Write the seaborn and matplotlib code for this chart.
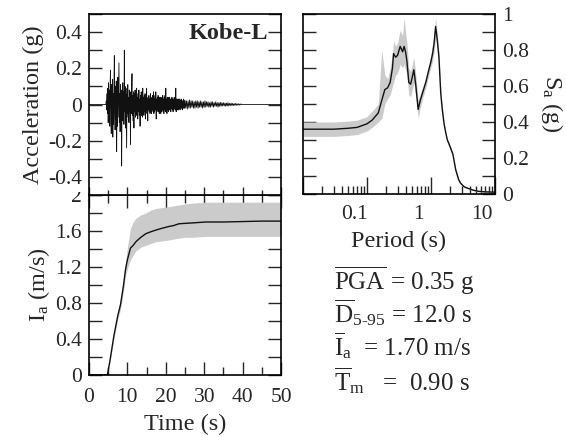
import numpy as np
import pandas as pd
import matplotlib
matplotlib.use("Agg")
import matplotlib.pyplot as plt
import matplotlib.transforms as mtrans
from matplotlib.ticker import MultipleLocator, FixedLocator, FixedFormatter, NullFormatter, LogLocator
import seaborn as sns

# ---------------- data ----------------
# acceleration record, dense part: starts at 4.4 s, sampled every 0.1 s
acc_dense_t0 = 4.4
acc_dense_dt = 0.1
acc_dense = [
    0.00, 0.02, -0.03, 0.06, -0.05, 0.09,
    -0.10, 0.12, -0.06, 0.08, -0.12, 0.10, 0.19, -0.08, -0.16, 0.11,
    -0.09, 0.14, -0.18, 0.06, -0.11, 0.12, 0.27, -0.05, -0.14, 0.10,
    -0.08, 0.13, -0.26, 0.05, -0.12, 0.15, -0.07, 0.09, 0.23, -0.10,
    0.06, -0.15, 0.11, -0.05, 0.08, -0.34, 0.04, -0.09, 0.12, -0.06,
    0.07, -0.11, 0.30, -0.04, 0.10, -0.13, 0.06, -0.08, -0.24, 0.09,
    -0.05, 0.11, -0.07, 0.04, -0.10, 0.08, -0.04, 0.06, -0.22, 0.07,
    -0.05, 0.09, 0.17, -0.06, 0.05, -0.09, 0.07, -0.13, 0.06, -0.04,
    0.08, -0.07, 0.05, -0.06, 0.09, -0.05, 0.04, -0.08, 0.06, -0.04,
    0.08, -0.06, 0.03, -0.12, 0.05, -0.04, 0.07, -0.06, 0.04, -0.07,
    0.09, -0.05, 0.04, -0.06, 0.05, -0.04, 0.06, -0.08, 0.04, -0.03,
    0.09, -0.05, 0.03, -0.09, 0.04, -0.03, 0.05, -0.04, 0.03, -0.05,
    0.06, -0.04, 0.03, -0.05, 0.04, -0.03, 0.05, -0.04, 0.07, -0.05,
    0.03, -0.04, 0.05, -0.03, 0.07, -0.08, 0.03, -0.04, 0.04, -0.03,
    0.05, -0.04, 0.03, -0.05, 0.04, -0.03, 0.04, -0.05, 0.03, -0.04,
    0.04, -0.03, 0.05, -0.04, 0.03, -0.05, 0.04, -0.03, 0.05, -0.04,
    0.09, -0.04, 0.03, -0.05, 0.04, -0.03, 0.04, -0.04, 0.03, -0.03,
    0.04, -0.03, 0.03, -0.04, 0.03, -0.02, 0.04, -0.03, 0.03, -0.04,
    0.03, -0.03, 0.04, -0.02, 0.03, -0.03, 0.09, -0.04, 0.03, -0.02,
    0.03, -0.03, 0.02, -0.03, 0.03, -0.02, 0.03, -0.03, 0.02, -0.02,
    0.03, -0.02, 0.02, -0.03, 0.02, -0.02, 0.03, -0.02, 0.02, -0.02,
]
# acceleration record, coda: starts at 25 s, sampled every 0.2 s
acc_tail_t0 = 25.0
acc_tail_dt = 0.2
acc_tail = [
    0.025, -0.02, 0.02, -0.025, 0.02, -0.02, 0.025, -0.02, 0.02, -0.015,
    0.02, -0.02, 0.015, -0.02, 0.02, -0.015, 0.02, -0.02, 0.015, -0.015,
    0.02, -0.015, 0.015, -0.02, 0.015, -0.015, 0.02, -0.015, 0.015, -0.01,
    0.015, -0.015, 0.01, -0.015, 0.015, -0.01, 0.015, -0.015, 0.01, -0.01,
    0.015, -0.01, 0.01, -0.015, 0.01, -0.01, 0.012, -0.01, 0.01, -0.008,
    0.01, -0.008, 0.008, -0.01, 0.008, -0.008, 0.01, -0.008, 0.006, -0.006,
    0.008, -0.006, 0.006, -0.006, 0.005, -0.005, 0.006, -0.004, 0.004, -0.004,
    0.004, -0.003, 0.003, -0.002, 0.002,
]
acc_quiet_t = [0.0, 4.3, 40.0, 50.0]
acc_quiet_a = [0.0, 0.0, 0.0, 0.0]

# Arias intensity (mean and band)
ia_t = [0, 4.8, 5.5, 6.5, 7.5, 8.2, 9.0, 9.5, 10.0, 10.8, 11.5, 12.2, 13.5, 14.8,
        16.0, 17.4, 19.0, 20.8, 22.0, 23.4, 25, 27, 30.4, 35, 40, 45, 50]
ia_mean = [0, 0, 0.17, 0.44, 0.66, 0.78, 1.00, 1.17, 1.28, 1.41, 1.44, 1.48, 1.53, 1.57,
           1.59, 1.61, 1.63, 1.65, 1.66, 1.68, 1.685, 1.69, 1.70, 1.70, 1.705, 1.71, 1.71]
ia_upper = [0, 0, 0.19, 0.47, 0.70, 0.84, 1.07, 1.25, 1.42, 1.63, 1.70, 1.74, 1.78, 1.80,
            1.83, 1.85, 1.86, 1.87, 1.88, 1.89, 1.90, 1.91, 1.92, 1.92, 1.92, 1.92, 1.92]
ia_lower = [0, 0, 0.15, 0.41, 0.62, 0.73, 0.93, 1.10, 1.18, 1.28, 1.33, 1.38, 1.42, 1.44,
            1.46, 1.48, 1.49, 1.50, 1.51, 1.52, 1.53, 1.53, 1.54, 1.54, 1.54, 1.54, 1.54]

# response spectrum (mean and band)
sa_period = [0.01, 0.02, 0.03, 0.05, 0.07, 0.10, 0.12, 0.15, 0.17, 0.19, 0.21, 0.23, 0.25,
             0.26, 0.28, 0.30, 0.33, 0.36, 0.38, 0.40, 0.42, 0.45, 0.48, 0.51, 0.54, 0.58,
             0.63, 0.68, 0.75, 0.83, 0.91, 0.99, 1.06, 1.12, 1.18, 1.25, 1.33, 1.42, 1.50,
             1.60, 1.70, 1.80, 1.90, 2.05, 2.20, 2.43, 2.70, 2.90, 3.30, 3.70, 4.50, 5.50,
             7.00, 10.0]
sa_mean = [0.36, 0.36, 0.36, 0.365, 0.37, 0.39, 0.41, 0.45, 0.52, 0.58, 0.59, 0.62, 0.70,
           0.78, 0.76, 0.77, 0.82, 0.79, 0.82, 0.79, 0.74, 0.62, 0.61, 0.65, 0.69, 0.60,
           0.47, 0.52, 0.57, 0.62, 0.68, 0.73, 0.78, 0.84, 0.93, 0.86, 0.76, 0.56, 0.47,
           0.39, 0.34, 0.30, 0.28, 0.25, 0.22, 0.135, 0.08, 0.06, 0.04, 0.033, 0.022, 0.015,
           0.012, 0.01]
sa_upper = [0.40, 0.40, 0.40, 0.405, 0.41, 0.43, 0.46, 0.50, 0.80, 0.66, 0.64, 0.70, 0.78,
            0.85, 0.82, 0.84, 0.91, 0.88, 0.98, 0.90, 0.84, 0.70, 0.68, 0.72, 0.76, 0.66,
            0.52, 0.56, 0.60, 0.65, 0.71, 0.77, 0.83, 0.90, 0.98, 0.90, 0.79, 0.58, 0.49,
            0.40, 0.35, 0.31, 0.29, 0.26, 0.23, 0.145, 0.09, 0.065, 0.045, 0.037, 0.025,
            0.018, 0.015, 0.012]
sa_lower = [0.32, 0.32, 0.32, 0.325, 0.33, 0.35, 0.37, 0.40, 0.42, 0.50, 0.53, 0.55, 0.60,
            0.62, 0.66, 0.67, 0.72, 0.70, 0.72, 0.69, 0.66, 0.55, 0.54, 0.58, 0.62, 0.54,
            0.42, 0.48, 0.54, 0.59, 0.65, 0.70, 0.74, 0.79, 0.87, 0.82, 0.73, 0.54, 0.45,
            0.38, 0.33, 0.29, 0.27, 0.24, 0.21, 0.125, 0.07, 0.055, 0.035, 0.029, 0.019,
            0.012, 0.009, 0.008]

acc_yticks = [-0.4, -0.2, 0, 0.2, 0.4]
ia_yticks = [0, 0.4, 0.8, 1.2, 1.6, 2]
time_ticks = [0, 10, 20, 30, 40, 50]
sa_yticks = [0, 0.2, 0.4, 0.6, 0.8, 1]
period_ticks = [0.01, 0.1, 1, 10]
period_labels = ["", "0.1", "1", "10"]

stats_lines = [
    r"$\overline{\mathrm{PGA}}$ = 0.35 g",
    r"$\overline{\mathrm{D}}_{\text{5-95}}$ = 12.0 s",
    r"$\overline{\mathrm{I}}_{\mathrm{a}}$  = 1.70 m/s",
    r"$\overline{\mathrm{T}}_{\mathrm{m}}$   =  0.90 s",
]

# ---------------- style ----------------
sns.set_style("ticks")
plt.rcParams["font.family"] = ["Liberation Serif", "DejaVu Serif"]
plt.rcParams["mathtext.fontset"] = "custom"
plt.rcParams["mathtext.rm"] = "Liberation Serif"
plt.rcParams["mathtext.it"] = "Liberation Serif:italic"
plt.rcParams["mathtext.bf"] = "Liberation Serif:bold"
plt.rcParams["axes.linewidth"] = 1.2
plt.rcParams["axes.edgecolor"] = "black"

TICK_FS = 15.5
LABEL_FS = 17.5
GREY = "#cbcbcb"
LINE = "#111111"

W, H = 566, 437
fig = plt.figure(figsize=(W / 100, H / 100), dpi=100)


def rect(l, t, r, b):
    return [l / W, 1 - b / H, (r - l) / W, (b - t) / H]


ax_ia = fig.add_axes(rect(89, 195, 281, 375))
ax_acc = fig.add_axes(rect(89, 14, 281, 195))
ax_sa = fig.add_axes(rect(303, 14, 495, 194))

# ---------------- acceleration ----------------
t_dense = acc_dense_t0 + acc_dense_dt * np.arange(len(acc_dense))
t_tail = acc_tail_t0 + acc_tail_dt * np.arange(len(acc_tail))
acc_df = pd.DataFrame({
    "t": np.concatenate([acc_quiet_t[:2], t_dense, t_tail, acc_quiet_t[2:]]),
    "a": np.concatenate([acc_quiet_a[:2], acc_dense, acc_tail, acc_quiet_a[2:]]),
})
sns.lineplot(data=acc_df, x="t", y="a", ax=ax_acc, color=LINE, lw=0.6,
             estimator=None, sort=True)
ax_acc.set_xlim(0, 50)
ax_acc.set_ylim(-0.5, 0.5)
ax_acc.yaxis.set_major_locator(FixedLocator(acc_yticks))
ax_acc.yaxis.set_major_formatter(FixedFormatter([f"{v:g}" for v in acc_yticks]))
ax_acc.yaxis.set_minor_locator(MultipleLocator(0.1))
ax_acc.xaxis.set_major_locator(MultipleLocator(10))
ax_acc.xaxis.set_minor_locator(MultipleLocator(5))
ax_acc.xaxis.set_major_formatter(NullFormatter())
ax_acc.tick_params(axis="y", which="both", direction="in", left=True, right=True,
                   length=9.4, width=1.0, labelsize=TICK_FS, pad=5)
ax_acc.tick_params(axis="x", which="major", direction="in", bottom=True, top=False,
                   length=5.8, width=1.0)
ax_acc.tick_params(axis="x", which="minor", direction="in", bottom=True, top=False,
                   length=3.6, width=1.0)
ax_acc.set_xlabel("")
ax_acc.set_ylabel("Acceleration (g)", fontsize=LABEL_FS, labelpad=3)
ax_acc.text(0.935, 0.895, "Kobe-L", transform=ax_acc.transAxes, ha="right",
            va="center", fontsize=LABEL_FS, fontweight="bold")

# ---------------- Arias intensity ----------------
ax_ia.fill_between(ia_t, ia_lower, ia_upper, color=GREY, lw=0)
sns.lineplot(x=ia_t, y=ia_mean, ax=ax_ia, color=LINE, lw=1.0)
ax_ia.set_xlim(0, 50)
ax_ia.set_ylim(0, 2)
ax_ia.yaxis.set_major_locator(FixedLocator(ia_yticks))
ax_ia.yaxis.set_major_formatter(FixedFormatter([f"{v:g}" for v in ia_yticks]))
ax_ia.yaxis.set_minor_locator(MultipleLocator(0.2))
ax_ia.xaxis.set_major_locator(FixedLocator(time_ticks))
ax_ia.xaxis.set_major_formatter(FixedFormatter([f"{v:g}" for v in time_ticks]))
ax_ia.xaxis.set_minor_locator(MultipleLocator(5))
ax_ia.tick_params(axis="y", which="both", direction="in", left=True, right=True,
                  length=9.4, width=1.0, labelsize=TICK_FS, pad=5)
ax_ia.tick_params(axis="x", which="major", direction="in", bottom=True, top=True,
                  length=9.4, width=1.0, labelsize=TICK_FS, pad=9)
ax_ia.tick_params(axis="x", which="minor", direction="in", bottom=True, top=True,
                  length=5.8, width=1.0)
ax_ia.set_xlabel("Time (s)", fontsize=LABEL_FS, labelpad=5)
ax_ia.set_ylabel(r"I$_{\mathrm{a}}$ (m/s)", fontsize=LABEL_FS, labelpad=2)

# the top "2" label is partly hidden under the upper panel, as in the reference
clip_bb = mtrans.TransformedBbox(mtrans.Bbox([[0, 0], [1, 1 - 192 / H]]), fig.transFigure)
for tk in ax_ia.yaxis.get_major_ticks():
    tk.label1.set_clip_box(clip_bb)
    tk.label1.set_clip_on(True)

# ---------------- response spectrum ----------------
ax_sa.fill_between(sa_period, sa_lower, sa_upper, color=GREY, lw=0)
sns.lineplot(x=sa_period, y=sa_mean, ax=ax_sa, color=LINE, lw=1.0)
ax_sa.set_xscale("log")
ax_sa.set_xlim(0.01, 10)
ax_sa.set_ylim(0, 1)
ax_sa.xaxis.set_major_locator(FixedLocator(period_ticks))
ax_sa.xaxis.set_major_formatter(FixedFormatter(period_labels))
ax_sa.xaxis.set_minor_locator(LogLocator(base=10, subs=np.arange(2, 10), numticks=20))
ax_sa.xaxis.set_minor_formatter(NullFormatter())
ax_sa.yaxis.set_major_locator(FixedLocator(sa_yticks))
ax_sa.yaxis.set_major_formatter(FixedFormatter([f"{v:g}" for v in sa_yticks]))
ax_sa.yaxis.set_minor_locator(MultipleLocator(0.1))
ax_sa.yaxis.tick_right()
ax_sa.yaxis.set_label_position("right")
ax_sa.tick_params(axis="y", which="both", direction="in", left=True, right=True,
                  labelleft=False, labelright=True,
                  length=9.4, width=1.0, labelsize=TICK_FS, pad=5)
ax_sa.tick_params(axis="x", which="major", direction="in", bottom=True, top=False,
                  length=12, width=1.0, labelsize=TICK_FS, pad=8)
ax_sa.tick_params(axis="x", which="minor", direction="in", bottom=True, top=False,
                  length=5.8, width=1.0)
ax_sa.set_xlabel("Period (s)", fontsize=LABEL_FS, labelpad=5)
ax_sa.set_ylabel(r"S$_{\mathrm{a}}$ (g)", fontsize=LABEL_FS, rotation=270,
                 labelpad=26)

shift = mtrans.ScaledTranslation(-0.13, 0, fig.dpi_scale_trans)
for tk in ax_sa.xaxis.get_major_ticks():
    tk.label1.set_transform(tk.label1.get_transform() + shift)

for ax in (ax_acc, ax_ia, ax_sa):
    for sp in ax.spines.values():
        sp.set_visible(True)
        sp.set_linewidth(1.2)

# ---------------- summary text ----------------
baselines = [290, 322, 355, 390]
for txt, yb in zip(stats_lines, baselines):
    fig.text(334 / W, 1 - yb / H, txt, fontsize=18, ha="left", va="baseline")

fig.savefig("out.png", dpi=100)
